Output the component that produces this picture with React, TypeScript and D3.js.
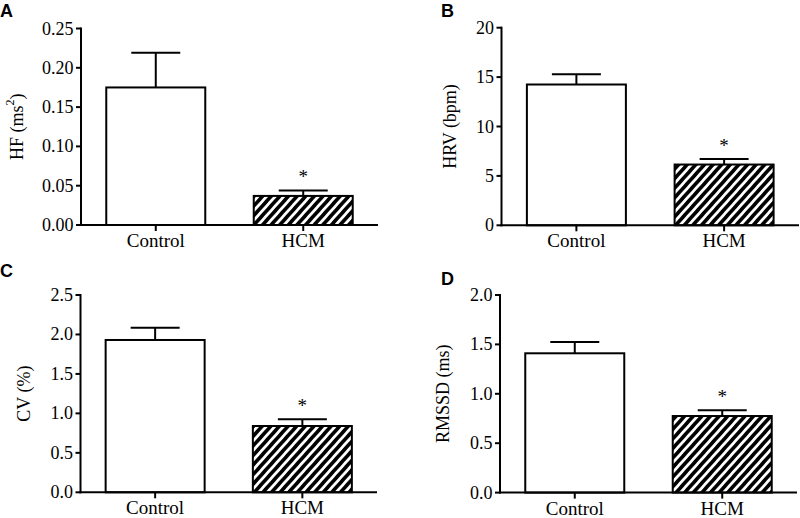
import React from "react";
import * as d3 from "d3";

const categories = ["Control", "HCM"];

const hfMean = [0.175, 0.037];
const hfSem = [0.044, 0.007];
const hfTicks = [0, 0.05, 0.1, 0.15, 0.2, 0.25];

const hrvMean = [14.25, 6.15];
const hrvSem = [1.05, 0.55];
const hrvTicks = [0, 5, 10, 15, 20];

const cvMean = [1.93, 0.84];
const cvSem = [0.155, 0.085];
const cvTicks = [0, 0.5, 1.0, 1.5, 2.0, 2.5];

const rmssdMean = [1.41, 0.775];
const rmssdSem = [0.115, 0.058];
const rmssdTicks = [0, 0.5, 1.0, 1.5, 2.0];

const significant = [false, true];

type Panel = {
  letter: string;
  title: React.ReactNode;
  mean: number[];
  sem: number[];
  ticks: number[];
  fmt: string;
  left: number;
  right: number;
  top: number;
  bottom: number;
  titleX: number;
  letterX: number;
  letterY: number;
};

const serif = "'Liberation Serif', 'Times New Roman', serif";
const sans = "'Liberation Sans', Arial, sans-serif";

const panels: Panel[] = [
  {
    letter: "A",
    title: (
      <>
        HF (ms
        <tspan baselineShift="super" fontSize="12">2</tspan>
        <tspan>)</tspan>
      </>
    ),
    mean: hfMean, sem: hfSem, ticks: hfTicks, fmt: ".2f",
    left: 81, right: 378, top: 28.5, bottom: 225,
    titleX: 17, letterX: 0, letterY: 17,
  },
  {
    letter: "B",
    title: "HRV (bpm)",
    mean: hrvMean, sem: hrvSem, ticks: hrvTicks, fmt: "d",
    left: 501.5, right: 799, top: 27.7, bottom: 225.3,
    titleX: 450, letterX: 441, letterY: 17,
  },
  {
    letter: "C",
    title: "CV (%)",
    mean: cvMean, sem: cvSem, ticks: cvTicks, fmt: ".1f",
    left: 80.5, right: 377, top: 295, bottom: 492.3,
    titleX: 24, letterX: 0, letterY: 277,
  },
  {
    letter: "D",
    title: "RMSSD (ms)",
    mean: rmssdMean, sem: rmssdSem, ticks: rmssdTicks, fmt: ".1f",
    left: 500, right: 797, top: 295, bottom: 492.6,
    titleX: 443, letterX: 441, letterY: 285,
  },
];

function BarPanel({ p }: { p: Panel }) {
  const y = d3
    .scaleLinear()
    .domain([0, p.ticks[p.ticks.length - 1]])
    .range([p.bottom, p.top]);
  const x = d3.scalePoint<string>().domain(categories).range([p.left, p.right]).padding(0.507);
  const barW = 99;
  const capW = 49;
  const fmt = d3.format(p.fmt);
  const midY = (p.top + p.bottom) / 2;
  return (
    <g>
      <text x={p.letterX} y={p.letterY} fontFamily={sans} fontWeight="bold" fontSize="18" fill="#000">
        {p.letter}
      </text>
      <text
        transform={`translate(${p.titleX},${midY}) rotate(-90)`}
        textAnchor="middle"
        dominantBaseline="central"
        fontFamily={serif}
        fontSize="18"
        fill="#000"
      >
        {p.title}
      </text>
      {categories.map((c, i) => {
        const cx = x(c)!;
        const yt = y(p.mean[i]);
        const ye = y(p.mean[i] + p.sem[i]);
        return (
          <g key={c}>
            <line x1={cx} x2={cx} y1={yt} y2={ye} stroke="#000" strokeWidth={2} />
            <line x1={cx - capW / 2} x2={cx + capW / 2} y1={ye} y2={ye} stroke="#000" strokeWidth={2} />
            <rect
              x={cx - barW / 2}
              y={yt}
              width={barW}
              height={p.bottom - yt}
              fill={i === 0 ? "#fff" : "url(#hatch)"}
              stroke="#000"
              strokeWidth={2}
            />
            {significant[i] && (
              <text x={cx} y={ye - 7} textAnchor="middle" fontFamily={serif} fontSize="19" fill="#000">
                *
              </text>
            )}
            <line x1={cx} x2={cx} y1={p.bottom} y2={p.bottom + 6} stroke="#000" strokeWidth={2} />
            <text
              x={cx}
              y={p.bottom + 22}
              textAnchor="middle"
              fontFamily={serif}
              fontSize="19"
              fill="#000"
            >
              {c}
            </text>
          </g>
        );
      })}
      {p.ticks.map((t) => (
        <g key={t}>
          <line x1={p.left - 5} x2={p.left} y1={y(t)} y2={y(t)} stroke="#000" strokeWidth={2} />
          <text
            x={p.left - 7.5}
            y={y(t)}
            textAnchor="end"
            dominantBaseline="central"
            fontFamily={serif}
            fontSize="18"
            fill="#000"
          >
            {fmt(t)}
          </text>
        </g>
      ))}
      <line x1={p.left} x2={p.left} y1={p.top - 1} y2={p.bottom + 1} stroke="#000" strokeWidth={2} />
      <line x1={p.left - 1} x2={p.right} y1={p.bottom} y2={p.bottom} stroke="#000" strokeWidth={2} />
    </g>
  );
}

export default function App() {
  return (
    <svg
      width={800}
      height={518}
      viewBox="0 0 800 518"
      style={{ position: "absolute", left: 0, top: 0, background: "#fff" }}
    >
      <defs>
        <pattern id="hatch" patternUnits="userSpaceOnUse" width={6.4} height={6.4} patternTransform="rotate(42)">
          <rect width={6.4} height={6.4} fill="#fff" />
          <line x1={0} y1={-1} x2={0} y2={7.4} stroke="#000" strokeWidth={3.6} />
          <line x1={6.4} y1={-1} x2={6.4} y2={7.4} stroke="#000" strokeWidth={3.6} />
        </pattern>
      </defs>
      <rect width={800} height={518} fill="#fff" />
      {panels.map((p) => (
        <BarPanel key={p.letter} p={p} />
      ))}
    </svg>
  );
}
